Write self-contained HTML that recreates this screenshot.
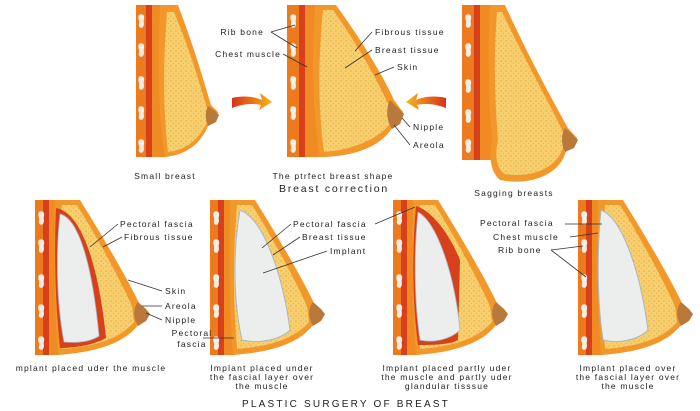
<!DOCTYPE html>
<html><head><meta charset="utf-8"><style>
html,body{margin:0;padding:0;background:#fff;}
svg{display:block}
text{font-family:"Liberation Sans",sans-serif;font-size:8.5px;letter-spacing:1.2px;fill:#222}
.c{text-anchor:middle}
.r{text-anchor:end}
line,polyline{stroke:#333;stroke-width:0.8;fill:none}
</style></head><body>
<svg width="700" height="411" viewBox="0 0 700 411" xmlns="http://www.w3.org/2000/svg">
<defs>
<pattern id="dots" width="5" height="5" patternUnits="userSpaceOnUse">
<rect width="5" height="5" fill="#f8cf6e"/>
<circle cx="1" cy="1" r="0.6" fill="#d99a2a"/>
<circle cx="3.5" cy="3.2" r="0.5" fill="#e0a838"/>
</pattern>
<linearGradient id="arr" x1="0" x2="1"><stop offset="0" stop-color="#d8321a"/><stop offset="1" stop-color="#f7b51a"/></linearGradient>
<linearGradient id="arr2" x1="1" x2="0"><stop offset="0" stop-color="#d8321a"/><stop offset="1" stop-color="#f7b51a"/></linearGradient>
<g id="ribs">
<path d="M0,0 c3,-2 6,0 5,4 c-1,3 1,5 -1,8 c-2,2 -5,0 -4,-3 c1,-3 -2,-6 0,-9z" fill="#f4efe6"/>
</g>
</defs>

<!-- TOP FIG 1: small breast -->
<rect x="136" y="5" width="12" height="152" fill="#ee7a1e"/>
<rect x="146" y="5" width="8" height="152" fill="#d8401c"/>
<path d="M152,5 L166,5 C160,60 160,110 166,157 L152,157 Z" fill="#f08a22"/>
<path d="M160,5 L178,5 C195,50 205,85 211,105 L218,112 L216,122 L208,126 C200,145 185,155 165,157 C158,120 158,60 160,5Z" fill="#f2982a"/>
<path d="M167,12 L174,12 C190,50 200,85 207,108 L207,122 C198,142 184,150 168,152 C163,110 163,60 167,12Z" fill="url(#dots)"/>
<path d="M208,106 L215,111 L219,115 L216,122 L208,126 C205,118 205,112 208,106Z" fill="#b8793a"/>
<use href="#ribs" x="139" y="15"/><use href="#ribs" x="139" y="44"/><use href="#ribs" x="139" y="77"/><use href="#ribs" x="139" y="107"/><use href="#ribs" x="139" y="140"/>

<!-- arrows -->
<path d="M232,98 C245,95 255,97 262,100 L260,93 L272,102 L259,110 L261,105 C252,103 243,104 232,108 Z" fill="url(#arr)"/>
<path d="M446,98 C433,95 423,97 416,100 L418,93 L406,102 L419,110 L417,105 C426,103 435,104 446,108 Z" fill="url(#arr2)"/>

<!-- TOP FIG 2 -->
<rect x="287" y="5" width="14" height="152" fill="#ee7a1e"/>
<rect x="299" y="5" width="8" height="152" fill="#d8401c"/>
<path d="M305,5 L322,5 C314,60 314,110 322,157 L305,157 Z" fill="#f08a22"/>
<path d="M315,5 L336,5 C365,45 385,80 394,100 L403,112 L400,124 L392,128 C380,148 350,157 320,157 C312,110 312,60 315,5Z" fill="#f2982a"/>
<path d="M323,10 L333,10 C360,48 378,82 388,104 L390,124 C375,142 348,150 324,152 C318,110 318,60 323,10Z" fill="url(#dots)"/>
<path d="M390,100 L398,108 L404,114 L400,124 L392,129 C386,120 386,108 390,100Z" fill="#b8793a"/>
<use href="#ribs" x="291" y="15"/><use href="#ribs" x="291" y="44"/><use href="#ribs" x="291" y="77"/><use href="#ribs" x="291" y="107"/><use href="#ribs" x="291" y="140"/>

<!-- TOP FIG 3 -->
<rect x="462" y="5" width="14" height="155" fill="#ee7a1e"/>
<rect x="474" y="5" width="8" height="155" fill="#d8401c"/>
<path d="M480,5 L496,5 C490,60 490,110 494,160 L480,160 Z" fill="#f08a22"/>
<path d="M490,5 L505,5 C530,60 558,110 568,128 L577,138 L574,148 L566,151 C560,175 530,186 500,180 C488,170 490,150 492,140 C488,90 488,50 490,5Z" fill="#f2982a"/>
<path d="M497,12 L502,12 C526,62 552,108 563,132 L563,148 C555,170 530,178 504,174 C494,165 496,150 498,140 C494,90 494,50 497,12Z" fill="url(#dots)"/>
<path d="M565,128 L572,134 L578,140 L574,148 L565,152 C561,144 561,134 565,128Z" fill="#b8793a"/>
<use href="#ribs" x="466" y="15"/><use href="#ribs" x="466" y="44"/><use href="#ribs" x="466" y="80"/><use href="#ribs" x="466" y="110"/><use href="#ribs" x="466" y="140"/>

<!-- BOTTOM template -->
<g id="bot">
<rect x="35" y="200" width="10" height="155" fill="#ee7a1e"/>
<rect x="43" y="200" width="8" height="155" fill="#d8401c"/>
<path d="M49,200 L58,200 C55,260 55,310 60,355 L49,355 Z" fill="#f08a22"/>
<path d="M55,200 L80,200 C105,240 128,280 139,303 L148,312 L146,320 L138,325 C125,342 100,352 58,355 C54,300 54,250 55,200Z" fill="#f2982a"/>
<path d="M62,205 L77,205 C100,242 120,280 132,306 L134,322 C120,338 98,346 62,349 C58,300 58,250 62,205Z" fill="url(#dots)"/>
<path d="M138,302 L146,309 L150,314 L146,321 L138,326 C133,318 133,308 138,302Z" fill="#b8793a"/>
<use href="#ribs" x="39" y="212"/><use href="#ribs" x="39" y="240"/><use href="#ribs" x="39" y="275"/><use href="#ribs" x="39" y="305"/><use href="#ribs" x="39" y="337"/>
</g>
<!-- A implant under muscle -->
<path d="M56,208 C80,212 98,260 106,338 C94,345 75,348 60,348 C55,300 54,250 56,208Z" fill="#d8401c"/>
<path d="M60,214 C78,218 92,262 99,336 C90,342 76,343 64,342 C56,300 56,250 60,214Z" fill="#eceded" stroke="#a8b8c8" stroke-width="0.8"/>
<use href="#bot" x="175"/>
<path d="M240,210 C262,218 282,270 290,330 C280,340 258,344 242,340 C233,300 233,250 240,210Z" fill="#eceded" stroke="#a8b8c8" stroke-width="1"/>
<use href="#bot" x="358"/>
<path d="M416,206 C435,212 452,240 460,260 L458,340 C450,345 430,345 418,345 C412,300 412,250 416,206Z" fill="#d8401c"/>
<path d="M418,212 C436,222 454,270 460,330 C450,340 432,343 420,340 C414,300 414,250 418,212Z" fill="#eceded" stroke="#a8b8c8" stroke-width="0.8"/>
<use href="#bot" x="543"/>
<path d="M601,210 C622,218 640,270 648,330 C638,340 618,344 603,340 C597,300 597,250 601,210Z" fill="#eceded" stroke="#a8b8c8" stroke-width="1"/>

<!-- TOP LABELS -->
<text x="264" y="35" class="r">Rib bone</text>
<text x="281" y="57" class="r">Chest muscle</text>
<polyline points="271,32 295,25"/><polyline points="271,32 297,48"/>
<line x1="283" y1="54" x2="307" y2="67"/>
<text x="375" y="35">Fibrous tissue</text>
<text x="375" y="53">Breast tissue</text>
<text x="397" y="70">Skin</text>
<line x1="372" y1="32" x2="355" y2="51"/>
<line x1="372" y1="50" x2="345" y2="68"/>
<line x1="394" y1="67" x2="375" y2="75"/>
<text x="413" y="130">Nipple</text>
<text x="413" y="148">Areola</text>
<line x1="410" y1="127" x2="402" y2="118"/>
<line x1="410" y1="145" x2="394" y2="125"/>
<text x="165" y="179" class="c">Small breast</text>
<text x="333" y="179" class="c">The ptrfect breast shape</text>
<text x="334" y="192" class="c" style="font-size:10.5px;letter-spacing:1.8px">Breast correction</text>
<text x="514" y="196" class="c">Sagging breasts</text>

<!-- BOTTOM LABELS -->
<text x="120" y="227">Pectoral fascia</text>
<text x="124" y="240">Fibrous tissue</text>
<line x1="118" y1="224" x2="90" y2="247"/>
<line x1="122" y1="237" x2="103" y2="247"/>
<text x="165" y="294">Skin</text>
<text x="165" y="309">Areola</text>
<text x="165" y="323">Nipple</text>
<line x1="162" y1="291" x2="128" y2="280"/>
<line x1="162" y1="306" x2="142" y2="306"/>
<line x1="162" y1="320" x2="146" y2="313"/>
<text x="192" y="336" class="c">Pectoral</text>
<text x="192" y="347" class="c">fascia</text>
<line x1="234" y1="338" x2="203" y2="338"/>
<text x="91" y="371" class="c">mplant placed uder the muscle</text>

<text x="293" y="227">Pectoral fascia</text>
<text x="302" y="240">Breast tissue</text>
<text x="330" y="254">Implant</text>
<line x1="291" y1="224" x2="262" y2="248"/>
<line x1="300" y1="237" x2="273" y2="255"/>
<line x1="327" y1="251" x2="263" y2="273"/>
<text x="262" y="371" class="c">Implant placed under</text>
<text x="262" y="380" class="c">the fascial layer over</text>
<text x="262" y="389" class="c">the muscle</text>

<line x1="375" y1="224" x2="415" y2="207"/>
<text x="447" y="371" class="c">Implant placed partly uder</text>
<text x="447" y="380" class="c">the muscle and partly uder</text>
<text x="447" y="389" class="c">glandular tisssue</text>

<text x="480" y="226">Pectoral fascia</text>
<text x="493" y="240">Chest muscle</text>
<text x="498" y="253">Rib bone</text>
<line x1="565" y1="224" x2="602" y2="224"/>
<line x1="570" y1="237" x2="598" y2="233"/>
<line x1="551" y1="250" x2="583" y2="246"/>
<line x1="551" y1="250" x2="586" y2="277"/>
<text x="628" y="371" class="c">Implant placed over</text>
<text x="628" y="380" class="c">the fascial layer over</text>
<text x="628" y="389" class="c">the muscle</text>

<text x="346" y="407" class="c" style="font-size:10px;letter-spacing:2.2px">PLASTIC SURGERY OF BREAST</text>
</svg>
</body></html>
